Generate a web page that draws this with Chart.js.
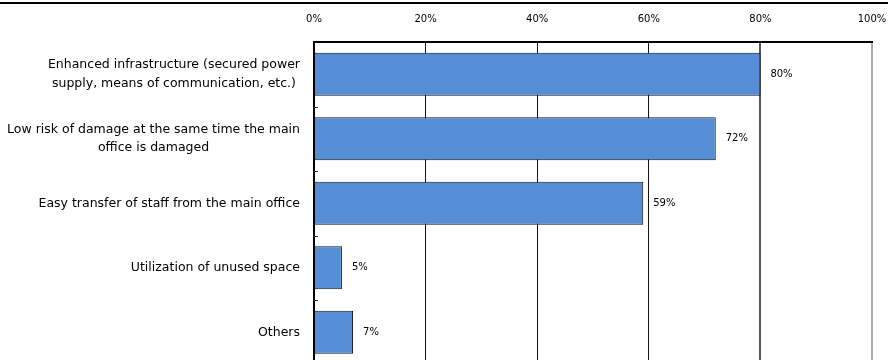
<!DOCTYPE html>
<html>
<head>
<meta charset="utf-8">
<title>Backup office selection criteria</title>
<script src="https://cdn.jsdelivr.net/npm/chart.js@4"></script>
<style>
  html, body { margin: 0; padding: 0; background: #fff; width: 888px; height: 360px; overflow: hidden; }
  canvas { display: block; }
</style>
</head>
<body>
<canvas id="chart" width="888" height="380"></canvas>
<script>
// Reasons given for choosing the backup office location (share of respondents, %)
const categories = [
  ["Enhanced infrastructure (secured power", "supply, means of communication, etc.)"],
  ["Low risk of damage at the same time the main", "office is damaged"],
  ["Easy transfer of staff from the main office"],
  ["Utilization of unused space"],
  ["Others"]
];
const shares = [80, 72, 59, 5, 7];
const axisTicks = [0, 20, 40, 60, 80, 100];

const FONT = '"DejaVu Sans", sans-serif';

// Thin rule across the top of the page
const topRule = {
  id: 'topRule',
  beforeDraw(chart) {
    const ctx = chart.ctx;
    ctx.save();
    ctx.fillStyle = '#000';
    ctx.fillRect(0, 2, chart.width, 2);
    ctx.restore();
  }
};

// Category labels: right-aligned block, each line centred inside the block
const categoryLabels = {
  id: 'categoryLabels',
  afterDraw(chart) {
    const ctx = chart.ctx;
    const y = chart.scales.y;
    const right = chart.chartArea.left - 14;
    const lineH = 18.5;
    ctx.save();
    ctx.font = '12.5px ' + FONT;
    ctx.fillStyle = '#000';
    ctx.textAlign = 'center';
    ctx.textBaseline = 'middle';
    categories.forEach((lines, i) => {
      const cy = y.getPixelForValue(i);
      const w = Math.max(...lines.map(l => ctx.measureText(l).width));
      const cx = right - w / 2;
      lines.forEach((l, k) => {
        ctx.fillText(l, cx, cy + (k - (lines.length - 1) / 2) * lineH);
      });
    });
    // small inward tick marks between categories on the category axis
    ctx.strokeStyle = '#333';
    ctx.lineWidth = 1;
    for (let i = 0; i < categories.length - 1; i++) {
      const by = Math.round((y.getPixelForValue(i) + y.getPixelForValue(i + 1)) / 2) + 0.5;
      ctx.beginPath();
      ctx.moveTo(chart.chartArea.left, by);
      ctx.lineTo(chart.chartArea.left + 4, by);
      ctx.stroke();
    }
    ctx.restore();
  }
};

// Value labels to the right of each bar
const valueLabels = {
  id: 'valueLabels',
  afterDatasetsDraw(chart) {
    const ctx = chart.ctx;
    const meta = chart.getDatasetMeta(0);
    ctx.save();
    ctx.font = '10px ' + FONT;
    ctx.fillStyle = '#000';
    ctx.textAlign = 'left';
    ctx.textBaseline = 'middle';
    meta.data.forEach((bar, i) => {
      ctx.fillText(shares[i] + '%', bar.x + 10, bar.y);
    });
    ctx.restore();
  }
};

new Chart(document.getElementById('chart'), {
  type: 'bar',
  data: {
    labels: categories.map(l => l.join(' ')),
    datasets: [{
      data: shares,
      backgroundColor: '#558ED5',
      borderColor: '#111',
      borderWidth: 1,
      borderSkipped: false,
      categoryPercentage: 1,
      barPercentage: 0.667
    }]
  },
  options: {
    indexAxis: 'y',
    responsive: false,
    animation: false,
    layout: { padding: { left: 314, right: 16, top: 0, bottom: 15.5 } },
    plugins: {
      legend: { display: false },
      tooltip: { enabled: false }
    },
    scales: {
      x: {
        position: 'top',
        min: 0,
        max: 100,
        afterBuildTicks(scale) {
          scale.ticks = axisTicks.map(v => ({ value: v }));
        },
        afterFit(scale) {
          scale.height = 42;
          scale.paddingLeft = 0;
          scale.paddingRight = 0;
        },
        ticks: {
          padding: 16.5,
          color: '#000',
          font: { family: FONT, size: 10 },
          callback: v => v + '%',
          maxRotation: 0,
          autoSkip: false
        },
        grid: {
          drawTicks: false,
          color: c => c.tick && c.tick.value === 100 ? '#aaa' : (c.tick && c.tick.value === 80 ? '#555' : '#111'),
          lineWidth: c => c.tick && (c.tick.value === 80 || c.tick.value === 100) ? 2 : 1
        },
        border: { display: true, color: '#000', width: 2 }
      },
      y: {
        afterFit(scale) { scale.width = 0; },
        ticks: { display: false },
        grid: { display: false, drawTicks: false },
        border: { display: true, color: '#000', width: 2 }
      }
    }
  },
  plugins: [topRule, categoryLabels, valueLabels]
});
</script>
</body>
</html>
